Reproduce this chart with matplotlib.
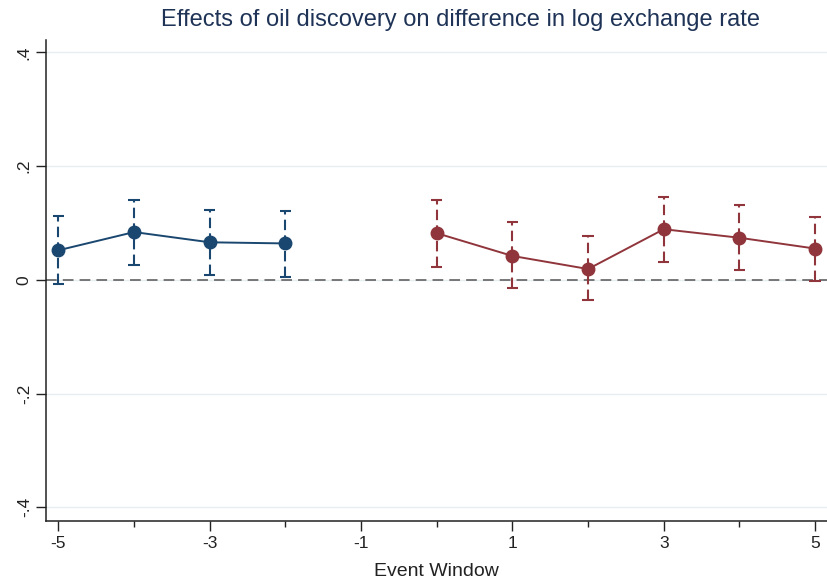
import matplotlib
matplotlib.use("Agg")
import matplotlib.pyplot as plt
from matplotlib.ticker import FixedLocator

plt.rcParams['font.family'] = ['Liberation Sans', 'DejaVu Sans']
plt.rcParams['axes.unicode_minus'] = False

# pre-discovery window
pre_x = [-5, -4, -3, -2]
pre_b = [0.052, 0.084, 0.066, 0.064]
pre_lo = [-0.008, 0.026, 0.008, 0.005]
pre_hi = [0.113, 0.141, 0.123, 0.121]

# post-discovery window
post_x = [0, 1, 2, 3, 4, 5]
post_b = [0.082, 0.042, 0.019, 0.089, 0.074, 0.055]
post_lo = [0.022, -0.014, -0.036, 0.032, 0.018, -0.002]
post_hi = [0.141, 0.101, 0.077, 0.145, 0.132, 0.111]

yticks = [-0.4, -0.2, 0, 0.2, 0.4]
ytick_labels = ["-.4", "-.2", "0", ".2", ".4"]
xticks = [-5, -3, -1, 1, 3, 5]
xminor = [-4, -2, 0, 2, 4]

blue = "#1a476f"
red = "#90353b"

fig = plt.figure(figsize=(8.28, 5.86), dpi=100)
ax = fig.add_axes([0.056, 0.111, 0.943, 0.821])

for y in yticks:
    ax.axhline(y, color="#e6eef0", lw=1, zorder=0)
ax.axhline(0, color="#555555", lw=1.1, dashes=(7, 4), zorder=1)

for xs, b, lo, hi, c in [(pre_x, pre_b, pre_lo, pre_hi, blue),
                         (post_x, post_b, post_lo, post_hi, red)]:
    ax.vlines(xs, lo, hi, colors=c, lw=1.5, linestyles=(0, (5, 2.5)), zorder=2)
    ax.hlines(lo, [x - 0.075 for x in xs], [x + 0.075 for x in xs], colors=c, lw=1.5, zorder=2)
    ax.hlines(hi, [x - 0.075 for x in xs], [x + 0.075 for x in xs], colors=c, lw=1.5, zorder=2)
    ax.plot(xs, b, color=c, lw=1.4, marker="o", ms=9, zorder=3)

ax.set_xlim(-5.16, 5.16)
ax.set_ylim(-0.424, 0.422)
ax.set_xticks(xticks)
ax.xaxis.set_minor_locator(FixedLocator(xminor))
ax.set_yticks(yticks)
ax.set_yticklabels(ytick_labels, rotation=90, va="center")
ax.tick_params(axis="both", which="major", length=7, width=1, labelsize=12.5, colors="#222222")
ax.tick_params(axis="x", which="minor", length=4, width=1, color="#222222")

for s in ["top", "right"]:
    ax.spines[s].set_visible(False)
for s in ["left", "bottom"]:
    ax.spines[s].set_color("#222222")
    ax.spines[s].set_linewidth(1.1)

ax.set_xlabel("Event Window", fontsize=14, color="#222222", labelpad=9)
fig.text(0.556, 0.966, "Effects of oil discovery on difference in log exchange rate",
         fontsize=17, color="#1e3356", ha="center", va="center")

fig.savefig("out.png", dpi=100, facecolor="white")
